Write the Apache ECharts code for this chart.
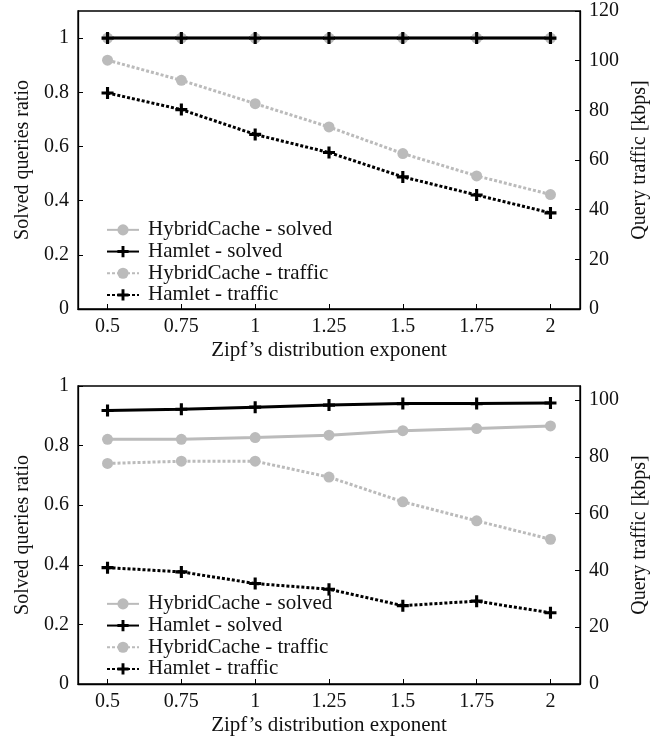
<!DOCTYPE html>
<html>
<head>
<meta charset="utf-8">
<script src="https://cdn.jsdelivr.net/npm/echarts@6/dist/echarts.min.js"></script>
<style>
  html, body { margin: 0; padding: 0; background: #fff; }
  #chart { width: 664px; height: 740px; }
</style>
</head>
<body>
<div id="chart"></div>
<script>
// x positions (Zipf exponent)
var zipf = [0.5, 0.75, 1, 1.25, 1.5, 1.75, 2];

// top panel
var topHybridSolved = [1, 1, 1, 1, 1, 1, 1];
var topHamletSolved = [1, 1, 1, 1, 1, 1, 1];
var topHybridTraffic = [100.2, 92.1, 82.7, 73.3, 62.6, 53.6, 46.1];
var topHamletTraffic = [87.0, 80.3, 70.3, 63.0, 53.2, 45.9, 38.7];

// bottom panel
var botHybridSolved = [0.821, 0.821, 0.827, 0.835, 0.85, 0.857, 0.866];
var botHamletSolved = [0.918, 0.922, 0.929, 0.936, 0.941, 0.941, 0.943];
var botHybridTraffic = [77.7, 78.5, 78.5, 72.9, 64.2, 57.5, 51.0];
var botHamletTraffic = [41.0, 39.5, 35.4, 33.4, 27.6, 29.2, 25.1];

var names = ['HybridCache - solved', 'Hamlet - solved', 'HybridCache - traffic', 'Hamlet - traffic'];

var FONT = 'Liberation Serif';
var TXT = '#111';
var GRAY = '#bbbbbb';
var PLUS = 'path://M3.7,0H6.3V3.7H10V6.3H6.3V10H3.7V6.3H0V3.7H3.7Z';

function pairs(vals) {
    return zipf.map(function (x, i) { return [x, vals[i]]; });
}

function xAxis(idx) {
    return {
        type: 'value', gridIndex: idx, min: 0.4, max: 2.1,
        name: 'Zipf\u2019s distribution exponent', nameLocation: 'middle', nameGap: 31,
        nameTextStyle: { fontFamily: FONT, fontSize: 21, color: TXT },
        axisLine: { lineStyle: { color: '#000', width: 1.3 } },
        axisTick: { inside: true, length: 5, customValues: zipf, lineStyle: { color: '#000' } },
        axisLabel: { customValues: zipf, margin: 8, fontFamily: FONT, fontSize: 20, color: TXT },
        splitLine: { show: false }
    };
}

// showMax: false when max is not a tick (1.1 / 105)
function yAxis(idx, pos, max, name, gap, showMax) {
    return {
        type: 'value', gridIndex: idx, position: pos, min: 0, max: max,
        interval: pos === 'left' ? 0.2 : 20,
        name: name, nameLocation: 'middle', nameGap: gap, nameRotate: 90,
        nameTextStyle: { fontFamily: FONT, fontSize: 20, color: TXT },
        axisLine: { show: true, lineStyle: { color: '#000', width: 1.3 } },
        axisTick: { show: true, inside: true, length: 5, lineStyle: { color: '#000' } },
        axisLabel: { showMaxLabel: showMax, margin: 9, fontFamily: FONT, fontSize: 20, color: TXT },
        splitLine: { show: false }
    };
}

function line(name, xi, yi, vals, color, dotted, plus) {
    return {
        type: 'line', name: name, xAxisIndex: xi, yAxisIndex: yi,
        data: pairs(vals),
        symbol: plus ? PLUS : 'circle',
        symbolSize: plus ? 12 : 11,
        showAllSymbol: true,
        itemStyle: { color: color, opacity: 1 },
        lineStyle: { color: color, width: 3, type: dotted ? [3, 2] : 'solid' },
        emphasis: { disabled: true },
        animation: false
    };
}

function legend(top) {
    return {
        data: names, left: 101, top: top, orient: 'vertical',
        itemWidth: 32, itemHeight: 14, itemGap: 0,
        textStyle: { fontFamily: FONT, fontSize: 21, color: TXT, lineHeight: 21.7, padding: [0, 0, 0, 4] },
        selectedMode: false
    };
}

var option = {
    backgroundColor: '#fff',
    animation: false,
    grid: [
        { left: 78, top: 11, width: 502, height: 298, show: true, borderColor: '#000', borderWidth: 1.3, backgroundColor: 'transparent' },
        { left: 78, top: 386, width: 502, height: 298, show: true, borderColor: '#000', borderWidth: 1.3, backgroundColor: 'transparent' }
    ],
    legend: [legend(214), legend(588)],
    xAxis: [xAxis(0), xAxis(1)],
    yAxis: [
        yAxis(0, 'left', 1.1, 'Solved queries ratio', 42, false),
        yAxis(0, 'right', 120, 'Query traffic [kbps]', 50, true),
        yAxis(1, 'left', 1, 'Solved queries ratio', 42, true),
        yAxis(1, 'right', 105, 'Query traffic [kbps]', 50, false)
    ],
    series: [
        line(names[0], 0, 0, topHybridSolved, GRAY, false, false),
        line(names[1], 0, 0, topHamletSolved, '#000', false, true),
        line(names[2], 0, 1, topHybridTraffic, GRAY, true, false),
        line(names[3], 0, 1, topHamletTraffic, '#000', true, true),
        line(names[0], 1, 2, botHybridSolved, GRAY, false, false),
        line(names[1], 1, 2, botHamletSolved, '#000', false, true),
        line(names[2], 1, 3, botHybridTraffic, GRAY, true, false),
        line(names[3], 1, 3, botHamletTraffic, '#000', true, true)
    ]
};

var myChart = echarts.init(document.getElementById('chart'), null, { renderer: 'canvas' });
myChart.setOption(option, true);
</script>
</body>
</html>
